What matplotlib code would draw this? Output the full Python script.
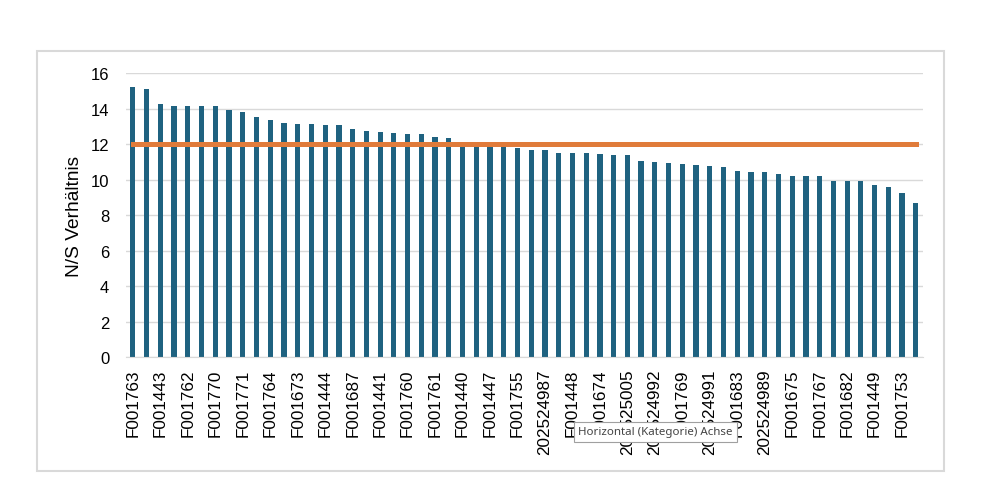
import numpy as np
import matplotlib
matplotlib.use("Agg")
import matplotlib.pyplot as plt

plt.rcParams['font.family'] = ['Liberation Sans', 'DejaVu Sans']

# N/S Verhältnis je Probe (58 Proben, nur jede zweite beschriftet)
werte = [15.21, 15.11, 14.23, 14.12, 14.12, 14.12, 14.12, 13.89, 13.78, 13.50,
         13.33, 13.16, 13.11, 13.11, 13.05, 13.05, 12.83, 12.71, 12.70, 12.64,
         12.58, 12.58, 12.42, 12.36, 12.13, 12.13, 12.00, 11.95, 11.80, 11.69,
         11.69, 11.52, 11.52, 11.52, 11.42, 11.37, 11.37, 11.07, 11.01, 10.96,
         10.90, 10.84, 10.79, 10.73, 10.51, 10.45, 10.45, 10.34, 10.22, 10.22,
         10.22, 9.94, 9.94, 9.94, 9.72, 9.61, 9.27, 8.71]
beschriftungen = ["F001763", "F001443", "F001762", "F001770", "F001771", "F001764",
                  "F001673", "F001444", "F001687", "F001441", "F001760", "F001761",
                  "F001440", "F001447", "F001755", "202524987", "F001448", "F001674",
                  "202525005", "202524992", "F001769", "202524991", "F001683",
                  "202524989", "F001675", "F001767", "F001682", "F001449", "F001753"]
grenzwert = [12] * len(werte)

x = np.arange(len(werte))

fig = plt.figure(figsize=(10, 4.81), dpi=100)
ax = fig.add_axes([0.126, 0.2551, 0.7967, 0.5911])

ax.bar(x, werte, width=0.38, color='#1f6280', zorder=2)
ax.plot(x, grenzwert, color='#e07b3a', linewidth=3.6, zorder=3)

ax.set_xlim(-0.5, len(werte) - 0.5)
ax.set_ylim(0, 16)
ax.set_yticks(np.arange(0, 17, 2))
ax.yaxis.grid(True, color='#d9d9d9', linewidth=1.0, zorder=0)
ax.set_axisbelow(True)

ax.set_xticks(x[::2])
ax.set_xticklabels(beschriftungen, rotation=90, fontsize=12.3)
ax.tick_params(axis='x', length=0, pad=8)
ax.tick_params(axis='y', length=0, pad=12, labelsize=12)

for s in ['top', 'right', 'left']:
    ax.spines[s].set_visible(False)
ax.spines['bottom'].set_color('#d9d9d9')

ax.set_ylabel("N/S Verhältnis", fontsize=13.8)
ax.yaxis.set_label_coords(-0.054, 0.5)

# Rahmen des Diagrammbereichs
rahmen = plt.Rectangle((0.037, 0.019), 0.907, 0.872, transform=fig.transFigure,
                       fill=False, edgecolor='#d9d9d9', linewidth=1.5)
fig.patches.append(rahmen)

# Tooltip aus dem Screenshot
fig.text(0.578, 1 - 433 / 481, "Horizontal (Kategorie) Achse", fontsize=8.3,
         family=['Noto Sans', 'DejaVu Sans'], color='#444444', va='center', ha='left',
         bbox=dict(boxstyle='square,pad=0.35', facecolor='white', edgecolor='#a0a0a0',
                   linewidth=0.8), zorder=10)

fig.savefig("out.png", dpi=100)
